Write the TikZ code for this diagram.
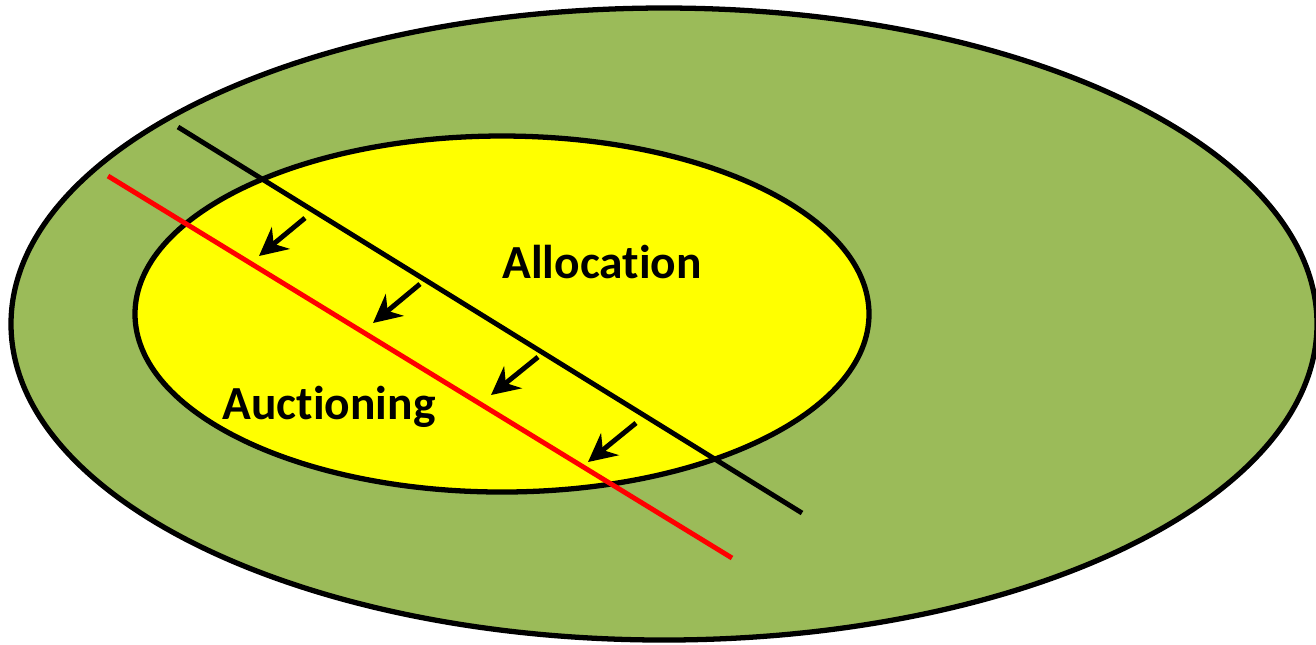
\documentclass[tikz,border=0pt]{standalone}
\usepackage{fontspec}
\setmainfont[Ligatures=NoCommon]{Carlito}
\usetikzlibrary{arrows.meta}
\definecolor{outergreen}{rgb}{0.608,0.733,0.349}
\definecolor{inneryellow}{rgb}{1.0,1.0,0.0}
\definecolor{cutred}{rgb}{1.0,0.0,0.0}
\tikzset{
  rim/.style={draw=black,line width=1.5pt},
  cutline/.style={line width=1.4pt},
  shiftarrow/.style={line width=1.4pt,-{Stealth[length=8pt,width=8pt]}},
  setlabel/.style={font=\fontsize{13.5}{16}\selectfont\bfseries}
}

\begin{document}
\begin{tikzpicture}[x=0.01cm,y=-0.01cm]
\useasboundingbox (0,0) rectangle (1316,644);
\filldraw[rim,fill=outergreen] (664,324) ellipse [x radius=653,y radius=316];
\filldraw[rim,fill=inneryellow] (502,314) ellipse [x radius=367,y radius=178];
\coordinate (blacktop) at (178,127);
\coordinate (blackend) at (802,513);
\coordinate (redtop) at (108,176);
\coordinate (redend) at (732,558);
\draw[cutline,black] (blacktop) -- (blackend);
\draw[cutline,cutred] (redtop) -- (redend);
\coordinate (a1) at (305,218); \coordinate (b1) at (259,256);
\coordinate (a2) at (420,284); \coordinate (b2) at (373,323);
\coordinate (a3) at (538,357); \coordinate (b3) at (491,395);
\coordinate (a4) at (636,423); \coordinate (b4) at (588,462);
\foreach \i in {1,...,4}
  \draw[shiftarrow] (a\i) -- (b\i);
\node[setlabel] (alloc) at (602,262) {Allocation};
\node[setlabel] (auction) at (329,407) {Auctioning};
\end{tikzpicture}
\end{document}
